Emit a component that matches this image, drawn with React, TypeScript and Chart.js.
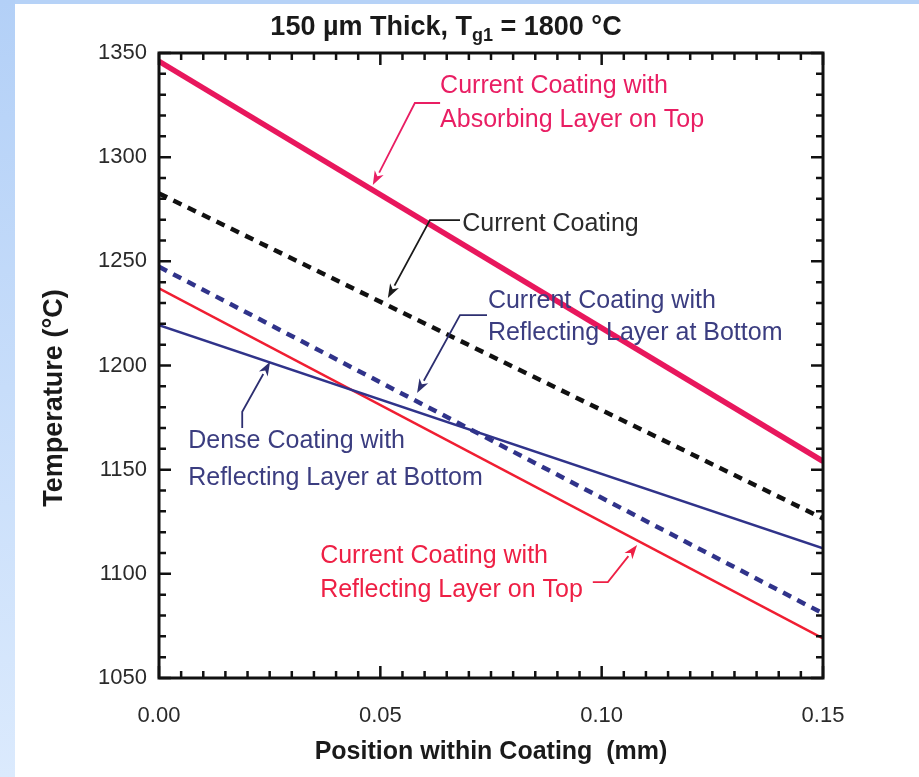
import React, { useEffect, useRef } from 'react';
import { Chart, registerables } from 'chart.js';

Chart.register(...registerables);

// ---- data ----
const positions = [0, 0.15];
const absorbingTop = [1346, 1154];
const currentCoating = [1282.6, 1126.6];
const reflectBottom = [1247.4, 1081];
const denseReflectBottom = [1219.4, 1112.2];
const reflectTop = [1237, 1069];

const xTickValues = [0, 0.05, 0.1, 0.15];
const yTickValues = [1050, 1100, 1150, 1200, 1250, 1300, 1350];

const titleMain = '150 \u00b5m Thick, T';
const titleSub = 'g1';
const titleEnd = ' = 1800 \u00b0C';
const xTitle = 'Position within Coating  (mm)';
const yTitle = 'Temperature (\u00b0C)';

// annotation labels (data coordinates)
const labelTexts = [
  ['Current Coating with', 'Absorbing Layer on Top'],
  ['Current Coating'],
  ['Current Coating with', 'Reflecting Layer at Bottom'],
  ['Dense Coating with', 'Reflecting Layer at Bottom'],
  ['Current Coating with', 'Reflecting Layer on Top'],
];
const labelX = [0.0635, 0.0685, 0.0743, 0.0066, 0.0364];
const labelY = [
  [1334.2, 1317.8],
  [1268.0],
  [1231.0, 1215.6],
  [1163.8, 1146.0],
  [1108.6, 1092.2],
];
const leaderPaths = [
  [[0.0635, 1326.0], [0.0578, 1326.0], [0.0483, 1286.6]],
  [[0.0680, 1269.8], [0.0612, 1269.8], [0.0517, 1232.4]],
  [[0.0741, 1224.2], [0.0680, 1224.2], [0.0583, 1186.8]],
  [[0.0188, 1170.0], [0.0188, 1177.8], [0.0251, 1201.8]],
  [[0.0980, 1096.0], [0.1014, 1096.0], [0.1080, 1113.8]],
];

const PINK = '#e8175d';
const RED = '#f01e32';
const NAVY = '#30338a';
const BLACK = '#111111';
const labelColors = ['#e91e63', '#2b2b2b', '#3b3d80', '#3b3d80', '#ee2045'];
const leaderColors = ['#e91e63', '#1a1a1a', '#2d2f70', '#2d2f70', '#ee2045'];

const FONT = '"Liberation Sans", Arial, Helvetica, sans-serif';

const decorPlugin = {
  id: 'decor',
  beforeDraw(chart: any) {
    const { ctx, width, height } = chart;
    ctx.save();
    ctx.fillStyle = '#ffffff';
    ctx.fillRect(0, 0, width, height);
    const g = ctx.createLinearGradient(0, 0, 0, height);
    g.addColorStop(0, '#b3d0f7');
    g.addColorStop(1, '#dbeafd');
    ctx.fillStyle = g;
    ctx.fillRect(0, 0, 15, height);
    ctx.fillStyle = '#b6d2f7';
    ctx.fillRect(15, 0, width - 15, 4);
    ctx.restore();
  },
  afterDatasetsDraw(chart: any) {
    const { ctx, chartArea } = chart;
    const xs = chart.scales.x;
    const ys = chart.scales.y;
    const { left, right, top, bottom } = chartArea;
    ctx.save();

    // ticks (inward, on all four sides)
    ctx.strokeStyle = BLACK;
    ctx.lineWidth = 2.5;
    ctx.beginPath();
    for (let i = 0; i <= 30; i++) {
      const v = i * 0.005;
      const px = xs.getPixelForValue(v);
      const len = i % 10 === 0 ? 12 : 7;
      ctx.moveTo(px, bottom);
      ctx.lineTo(px, bottom - len);
      ctx.moveTo(px, top);
      ctx.lineTo(px, top + len);
    }
    for (let i = 0; i <= 30; i++) {
      const v = 1050 + i * 10;
      const py = ys.getPixelForValue(v);
      const len = i % 5 === 0 ? 12 : 7;
      ctx.moveTo(left, py);
      ctx.lineTo(left + len, py);
      ctx.moveTo(right, py);
      ctx.lineTo(right - len, py);
    }
    ctx.stroke();

    // frame
    ctx.lineWidth = 3;
    ctx.strokeRect(left, top, right - left, bottom - top);

    // annotation labels
    ctx.font = '25px ' + FONT;
    ctx.textAlign = 'left';
    ctx.textBaseline = 'middle';
    labelTexts.forEach((lines, i) => {
      ctx.fillStyle = labelColors[i];
      lines.forEach((t, j) => {
        ctx.fillText(t, xs.getPixelForValue(labelX[i]), ys.getPixelForValue(labelY[i][j]));
      });
    });

    // leader lines with arrowheads
    leaderPaths.forEach((path, i) => {
      const pts = path.map(([x, y]) => [xs.getPixelForValue(x), ys.getPixelForValue(y)]);
      const n = pts.length;
      const [tx, ty] = pts[n - 1];
      const [px, py] = pts[n - 2];
      const ang = Math.atan2(ty - py, tx - px);
      const headLen = 14;
      const headHalf = 5;
      const bx = tx - headLen * Math.cos(ang);
      const by = ty - headLen * Math.sin(ang);
      ctx.strokeStyle = leaderColors[i];
      ctx.fillStyle = leaderColors[i];
      ctx.lineWidth = 1.8;
      ctx.beginPath();
      ctx.moveTo(pts[0][0], pts[0][1]);
      for (let k = 1; k < n - 1; k++) ctx.lineTo(pts[k][0], pts[k][1]);
      ctx.lineTo(bx, by);
      ctx.stroke();
      ctx.beginPath();
      ctx.moveTo(tx, ty);
      ctx.lineTo(bx + headHalf * Math.sin(ang), by - headHalf * Math.cos(ang));
      ctx.lineTo(bx + 4 * Math.cos(ang), by + 4 * Math.sin(ang));
      ctx.lineTo(bx - headHalf * Math.sin(ang), by + headHalf * Math.cos(ang));
      ctx.closePath();
      ctx.fill();
    });

    // main title with subscript
    ctx.fillStyle = '#1a1a1a';
    ctx.textBaseline = 'alphabetic';
    const bigFont = 'bold 27px ' + FONT;
    const subFont = 'bold 18px ' + FONT;
    ctx.font = bigFont;
    const w1 = ctx.measureText(titleMain).width;
    const w3 = ctx.measureText(titleEnd).width;
    ctx.font = subFont;
    const w2 = ctx.measureText(titleSub).width;
    const total = w1 + w2 + w3;
    const cx = (left + right) / 2 - 45;
    const x0 = cx - total / 2;
    const base = 35;
    ctx.font = bigFont;
    ctx.fillText(titleMain, x0, base);
    ctx.font = subFont;
    ctx.fillText(titleSub, x0 + w1, base + 6);
    ctx.font = bigFont;
    ctx.fillText(titleEnd, x0 + w1 + w2, base);

    // y axis title
    ctx.save();
    ctx.translate(55, 398);
    ctx.rotate(-Math.PI / 2);
    ctx.font = 'bold 27px ' + FONT;
    ctx.textAlign = 'center';
    ctx.textBaseline = 'middle';
    ctx.fillStyle = '#1a1a1a';
    ctx.fillText(yTitle, 0, 0);
    ctx.restore();

    ctx.restore();
  },
};

export default function App() {
  const canvasRef = useRef<HTMLCanvasElement | null>(null);

  useEffect(() => {
    document.body.style.margin = '0';
    const canvas = canvasRef.current;
    if (!canvas) return;
    const mk = (ys: number[]) => positions.map((x, i) => ({ x, y: ys[i] }));
    const chart = new Chart(canvas, {
      type: 'line',
      data: {
        datasets: [
          { label: 'Current Coating with Absorbing Layer on Top', data: mk(absorbingTop), borderColor: PINK, borderWidth: 5.5, pointRadius: 0 },
          { label: 'Current Coating', data: mk(currentCoating), borderColor: BLACK, borderWidth: 4.5, borderDash: [9, 7], pointRadius: 0 },
          { label: 'Current Coating with Reflecting Layer at Bottom', data: mk(reflectBottom), borderColor: NAVY, borderWidth: 4.5, borderDash: [9, 7], pointRadius: 0 },
          { label: 'Dense Coating with Reflecting Layer at Bottom', data: mk(denseReflectBottom), borderColor: NAVY, borderWidth: 2.5, pointRadius: 0 },
          { label: 'Current Coating with Reflecting Layer on Top', data: mk(reflectTop), borderColor: RED, borderWidth: 2.5, pointRadius: 0 },
        ],
      },
      options: {
        responsive: false,
        animation: false,
        events: [],
        layout: { padding: { top: 53, right: 96, left: 0, bottom: 0 } },
        plugins: { legend: { display: false }, tooltip: { enabled: false }, title: { display: false } },
        scales: {
          x: {
            type: 'linear',
            min: 0,
            max: 0.15,
            grid: { display: false },
            border: { display: false },
            afterFit: (s: any) => { s.height = 99; },
            afterBuildTicks: (s: any) => { s.ticks = xTickValues.map((v) => ({ value: v })); },
            ticks: {
              autoSkip: false,
              maxRotation: 0,
              padding: 17,
              color: '#2a2a2a',
              font: { family: FONT, size: 22 },
              callback: (v: any) => Number(v).toFixed(2),
            },
            title: {
              display: true,
              text: xTitle,
              color: '#1a1a1a',
              font: { family: FONT, size: 25, weight: 'bold' },
              padding: { top: 0, bottom: 10 },
            },
          },
          y: {
            type: 'linear',
            min: 1050,
            max: 1350,
            grid: { display: false },
            border: { display: false },
            afterFit: (s: any) => { s.width = 159; },
            afterBuildTicks: (s: any) => { s.ticks = yTickValues.map((v) => ({ value: v })); },
            ticks: {
              autoSkip: false,
              padding: 4,
              color: '#2a2a2a',
              font: { family: FONT, size: 22 },
              callback: (v: any) => String(v),
            },
          },
        },
      },
      plugins: [decorPlugin],
    } as any);
    return () => chart.destroy();
  }, []);

  return (
    <div style={{ position: 'absolute', left: 0, top: 0, width: 919, height: 777 }}>
      <canvas ref={canvasRef} width={919} height={777} style={{ display: 'block', width: 919, height: 777 }} />
    </div>
  );
}
